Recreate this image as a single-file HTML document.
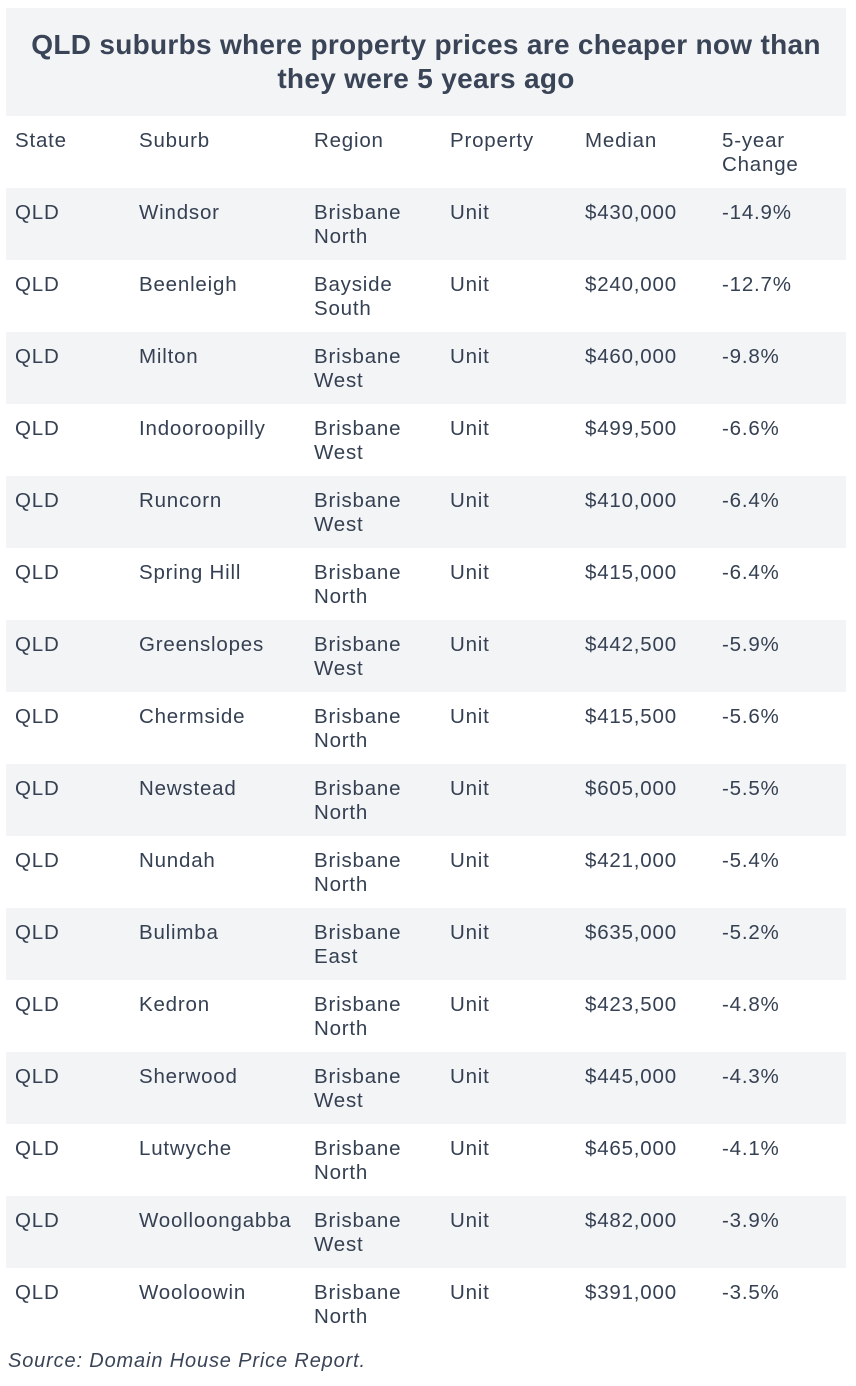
<!DOCTYPE html>
<html><head><meta charset="utf-8"><style>
body{margin:0;background:#fff;width:856px;height:1386px;overflow:hidden;font-family:"Liberation Sans",sans-serif;color:#354052;}
.wrap{position:absolute;left:6px;top:8px;width:840px;}
.title{background:#f3f4f6;height:108px;box-sizing:border-box;padding-top:20px;text-align:center;font-weight:bold;font-size:28px;letter-spacing:0.3px;line-height:34px;color:#3a4457;}
.row{position:relative;height:72px;font-size:20.5px;letter-spacing:0.8px;line-height:24px;}
.row.g{background:#f3f4f6;}
.row div{position:absolute;top:13px;white-space:nowrap;}
.c1{left:9px}.c2{left:133px}.c3{left:308px}.c4{left:444px}.c5{left:579px}.c6{left:716px}
.src{position:absolute;left:8px;top:1350px;font-size:20px;letter-spacing:0.85px;font-style:italic;color:#3a4457;}
</style></head><body>
<div class="wrap">
<div class="title">QLD suburbs where property prices are cheaper now than<br>they were 5 years ago</div>
<div class="row"><div class="c1">State</div><div class="c2">Suburb</div><div class="c3">Region</div><div class="c4">Property</div><div class="c5">Median</div><div class="c6">5-year<br>Change</div></div>
<div class="row g"><div class="c1">QLD</div><div class="c2">Windsor</div><div class="c3">Brisbane<br>North</div><div class="c4">Unit</div><div class="c5">$430,000</div><div class="c6">-14.9%</div></div>
<div class="row"><div class="c1">QLD</div><div class="c2">Beenleigh</div><div class="c3">Bayside<br>South</div><div class="c4">Unit</div><div class="c5">$240,000</div><div class="c6">-12.7%</div></div>
<div class="row g"><div class="c1">QLD</div><div class="c2">Milton</div><div class="c3">Brisbane<br>West</div><div class="c4">Unit</div><div class="c5">$460,000</div><div class="c6">-9.8%</div></div>
<div class="row"><div class="c1">QLD</div><div class="c2">Indooroopilly</div><div class="c3">Brisbane<br>West</div><div class="c4">Unit</div><div class="c5">$499,500</div><div class="c6">-6.6%</div></div>
<div class="row g"><div class="c1">QLD</div><div class="c2">Runcorn</div><div class="c3">Brisbane<br>West</div><div class="c4">Unit</div><div class="c5">$410,000</div><div class="c6">-6.4%</div></div>
<div class="row"><div class="c1">QLD</div><div class="c2">Spring Hill</div><div class="c3">Brisbane<br>North</div><div class="c4">Unit</div><div class="c5">$415,000</div><div class="c6">-6.4%</div></div>
<div class="row g"><div class="c1">QLD</div><div class="c2">Greenslopes</div><div class="c3">Brisbane<br>West</div><div class="c4">Unit</div><div class="c5">$442,500</div><div class="c6">-5.9%</div></div>
<div class="row"><div class="c1">QLD</div><div class="c2">Chermside</div><div class="c3">Brisbane<br>North</div><div class="c4">Unit</div><div class="c5">$415,500</div><div class="c6">-5.6%</div></div>
<div class="row g"><div class="c1">QLD</div><div class="c2">Newstead</div><div class="c3">Brisbane<br>North</div><div class="c4">Unit</div><div class="c5">$605,000</div><div class="c6">-5.5%</div></div>
<div class="row"><div class="c1">QLD</div><div class="c2">Nundah</div><div class="c3">Brisbane<br>North</div><div class="c4">Unit</div><div class="c5">$421,000</div><div class="c6">-5.4%</div></div>
<div class="row g"><div class="c1">QLD</div><div class="c2">Bulimba</div><div class="c3">Brisbane<br>East</div><div class="c4">Unit</div><div class="c5">$635,000</div><div class="c6">-5.2%</div></div>
<div class="row"><div class="c1">QLD</div><div class="c2">Kedron</div><div class="c3">Brisbane<br>North</div><div class="c4">Unit</div><div class="c5">$423,500</div><div class="c6">-4.8%</div></div>
<div class="row g"><div class="c1">QLD</div><div class="c2">Sherwood</div><div class="c3">Brisbane<br>West</div><div class="c4">Unit</div><div class="c5">$445,000</div><div class="c6">-4.3%</div></div>
<div class="row"><div class="c1">QLD</div><div class="c2">Lutwyche</div><div class="c3">Brisbane<br>North</div><div class="c4">Unit</div><div class="c5">$465,000</div><div class="c6">-4.1%</div></div>
<div class="row g"><div class="c1">QLD</div><div class="c2">Woolloongabba</div><div class="c3">Brisbane<br>West</div><div class="c4">Unit</div><div class="c5">$482,000</div><div class="c6">-3.9%</div></div>
<div class="row"><div class="c1">QLD</div><div class="c2">Wooloowin</div><div class="c3">Brisbane<br>North</div><div class="c4">Unit</div><div class="c5">$391,000</div><div class="c6">-3.5%</div></div>
</div>
<div class="src">Source: Domain House Price Report.</div>
</body></html>
